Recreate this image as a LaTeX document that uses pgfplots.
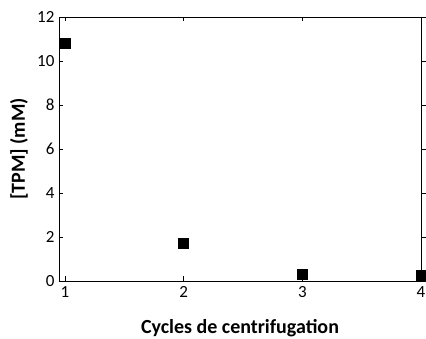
\documentclass[border=0pt]{standalone}
\usepackage{fontspec}
\setmainfont{Carlito}
\usepackage{pgfplots}
\pgfplotsset{compat=1.18}
\usetikzlibrary{calc}

\begin{document}
\begin{tikzpicture}
\pgfplotsset{
    every axis/.append style={
        scale only axis,
        width=362pt,
        height=264pt,
        xmin=0.95, xmax=4,
        ymin=0, ymax=12,
        xtick={1,2,3,4},
        ytick={0,2,...,12},
        major tick length=4.5pt,
        axis line style={line width=0.8pt},
        tick style={line width=0.8pt, black},
        every tick label/.append style={font=\fontsize{17}{19}\selectfont},
        /pgf/number format/assume math mode=true,
    }
}
\begin{axis}[
    tick align=inside,
    xtick pos=both,
    ytick pos=left,
    xticklabel pos=bottom,
    yticklabel style={xshift=-1pt},
    xticklabel style={yshift=-2pt},
    xlabel={\textbf{Cycles de centrifugation}},
    ylabel={\textbf{[TPM] (mM)}},
    label style={font=\fontsize{20}{22}\selectfont},
    xlabel style={at={(axis description cs:0.5,0)}, anchor=base, yshift=-53pt},
    ylabel style={at={(axis description cs:-0.1105,0.5)}, anchor=center},
    clip=false,
]
\addplot[only marks, mark=square*, mark size=5pt, black] coordinates {
  (1,10.8) (2,1.72) (3,0.32) (4,0.28)
};
\end{axis}
% right-hand ticks point outward
\begin{axis}[
    hide x axis,
    y axis line style={draw=none},
    tick align=outside,
    ytick pos=right,
    yticklabels={},
]
\addplot[draw=none] coordinates {(1,0)};
\end{axis}
\pgfresetboundingbox
\useasboundingbox ($(current axis.south west)+(-59pt,-58pt)$) rectangle ($(current axis.north east)+(5pt,17pt)$);
\end{tikzpicture}
\end{document}
